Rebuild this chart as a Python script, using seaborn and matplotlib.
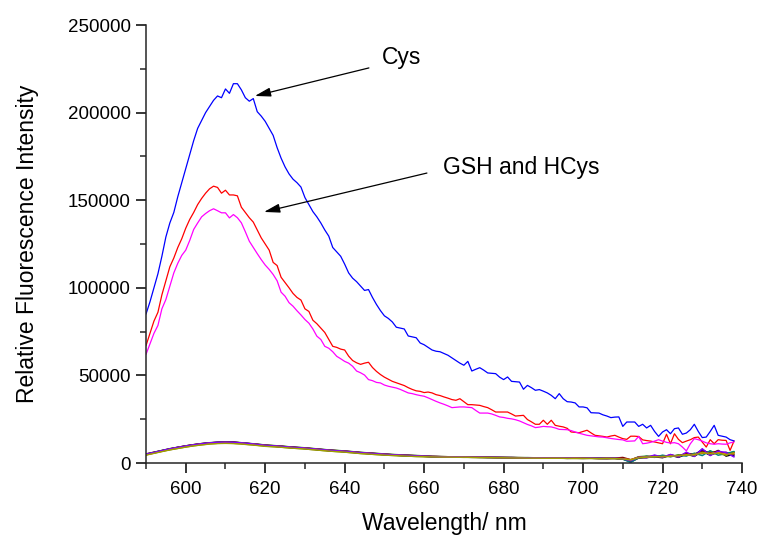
import numpy as np
import pandas as pd
import matplotlib
matplotlib.use("Agg")
import matplotlib.pyplot as plt
from matplotlib.ticker import MultipleLocator
import seaborn as sns

# ---------------------------------------------------------------- data
# emission spectra, 1 nm steps from 590 to 738 nm
wl_start, wl_stop = 590, 738

cys = [
    85000, 92000, 100000, 108000, 118000, 129000, 137000, 143000, 152000, 160000,
    168000, 176000, 184000, 191000, 195500, 200000, 203500, 207000, 209500, 208500,
    213500, 211000, 216500, 216500, 213000, 208500, 206500, 208000, 200500, 198000,
    195000, 191000, 187000, 180000, 174000, 169000, 165000, 162000, 160000, 157500,
    151500, 147500, 143500, 140500, 137000, 133000, 129500, 123000, 120500, 118000,
    113500, 108500, 105500, 103500, 101000, 98500, 99000, 94500, 90500, 87000,
    84000, 82500, 80500, 77500, 77000, 76500, 72500, 72000, 71500, 68500,
    67500, 66000, 64500, 63800, 63500, 62500, 61500, 60000, 58500, 57000,
    55800, 58000, 52500, 53500, 54400, 53000, 51400, 51200, 51000, 49000,
    47600, 49100, 46600, 46400, 46200, 42100, 44300, 43000, 41500, 41900,
    41000, 40000, 38600, 36700, 39600, 36700, 35000, 34800, 34300, 32000,
    32000, 31500, 28700, 28600, 28500, 27500, 26800, 25900, 26200, 26300,
    20900, 23400, 23400, 23400, 20900, 22100, 20000, 21500, 18000, 15200,
    17700, 19000, 16700, 19600, 20000, 16400, 17100, 19000, 22100, 18000,
    14500, 14800, 18000, 21500, 15800, 15300, 14800, 13300, 12600,
]

gsh = [
    67000, 74000, 81000, 86000, 96000, 104000, 112000, 117000, 123000, 128000,
    134000, 139000, 143000, 147500, 151000, 154000, 156500, 158000, 157300, 154000,
    155700, 153000, 153000, 152500, 146000, 143000, 140000, 137500, 133000, 128500,
    125000, 121500, 114500, 112700, 106000, 103000, 100000, 96800, 94500, 93000,
    88000, 86500, 81500, 79500, 77000, 74500, 70500, 66600, 66000, 65000,
    64500, 61000, 58500, 57200, 56300, 57000, 57500, 54500, 52300, 50500,
    49000, 47800, 46600, 45800, 45000, 44200, 43000, 42000, 41200, 40900,
    40200, 40500, 40000, 39000, 38500, 37700, 37000, 36200, 35800, 36700,
    35000, 33300, 33300, 33100, 32900, 32200, 31600, 30400, 29100, 29100,
    29100, 29100, 28000, 26800, 27000, 27200, 24800, 23500, 22100, 22100,
    24400, 22100, 24400, 21500, 21000, 20600, 19800, 17700, 17500, 17300,
    18000, 18700, 17200, 15800, 15500, 15200, 14800, 15400, 15800, 14800,
    13900, 13500, 15300, 15300, 15100, 13200, 12800, 12500, 12000, 11500,
    11000, 16400, 11000, 16700, 13500, 11600, 12500, 13300, 14500, 14800,
    12000, 9100, 13300, 11000, 13300, 13000, 12900, 7200, 12600,
]

hcys = [
    62000, 68000, 74000, 78500, 88000, 93300, 101000, 108500, 114000, 118500,
    121500, 127000, 133300, 137000, 140500, 142400, 144000, 145100, 144000, 142800,
    142800, 139900, 141800, 140000, 137100, 132000, 126600, 123000, 119500, 116100,
    113000, 110500, 107600, 104000, 97500, 95200, 91500, 89500, 86900, 84500,
    81900, 79800, 76500, 72400, 70500, 66600, 65500, 63500, 60900, 59500,
    58000, 57000, 55200, 52500, 51500, 50200, 47600, 47000, 46000, 45700,
    44500, 43800, 43300, 42800, 42000, 41000, 40000, 39600, 39000, 38500,
    38100, 37200, 36200, 35200, 34300, 33500, 32600, 31600, 31800, 32000,
    32000, 31800, 31600, 30000, 28500, 28500, 28500, 28000, 27200, 26300,
    26000, 25500, 25200, 24700, 24000, 23000, 22000, 21200, 20200, 20500,
    20900, 20700, 20600, 20000, 19200, 19100, 19000, 18500, 17700, 17000,
    16400, 15800, 15500, 15200, 14900, 14800, 14400, 14000, 13700, 13400,
    13200, 12400, 12500, 12600, 15200, 11000, 11300, 11800, 12500, 13300,
    12500, 11800, 11400, 11600, 11000, 9100, 6900, 11000, 13900, 13300,
    12500, 11500, 11000, 10700, 11000, 10800, 10700, 11500, 12000,
]

# other analytes, 2 nm steps from 590 to 738 nm, in thousands of counts
other_step = 2
other_k = {
    "s1": [4.8, 5.8, 6.8, 7.8, 8.6, 9.4, 10.1, 10.7, 11.2, 11.5,
           11.6, 11.5, 11.2, 10.8, 10.4, 9.9, 9.6, 9.3, 8.9, 8.6,
           8.3, 7.9, 7.5, 7.1, 6.8, 6.5, 6.1, 5.7, 5.4, 5.1,
           4.8, 4.5, 4.3, 4.1, 3.9, 3.8, 3.6, 3.5, 3.4, 3.4,
           3.3, 3.2, 3.2, 3.1, 3.1, 3.0, 3.0, 2.9, 2.9, 2.8,
           2.8, 2.7, 2.8, 2.6, 2.7, 2.6, 2.7, 2.5, 2.6, 2.5,
           2.2, 0.6, 2.8, 3.1, 3.5, 3.0, 4.4, 3.2, 5.0, 3.8,
           6.6, 4.4, 7.2, 3.9, 5.0],
    "s2": [5.1, 6.1, 7.2, 8.2, 9.0, 9.8, 10.5, 11.1, 11.6, 11.9,
           12.1, 12.0, 11.6, 11.2, 10.8, 10.3, 10.0, 9.7, 9.3, 9.0,
           8.7, 8.3, 7.9, 7.5, 7.2, 6.9, 6.5, 6.1, 5.8, 5.5,
           5.2, 4.9, 4.7, 4.5, 4.3, 4.1, 3.8, 3.7, 3.6, 3.6,
           3.5, 3.4, 3.4, 3.3, 3.3, 3.2, 3.2, 3.1, 3.1, 3.0,
           3.0, 2.9, 3.0, 2.9, 2.9, 2.8, 2.9, 2.8, 2.7, 2.9,
           2.6, 1.8, 3.6, 3.9, 3.4, 4.2, 3.8, 4.6, 4.2, 5.4,
           5.6, 6.0, 5.8, 5.2, 6.4],
    "s3": [5.0, 5.9, 7.0, 8.0, 8.9, 9.7, 10.4, 11.0, 11.5, 11.8,
           12.0, 11.9, 11.5, 11.1, 10.6, 10.1, 9.8, 9.5, 9.1, 8.8,
           8.5, 8.1, 7.7, 7.3, 7.0, 6.7, 6.3, 5.9, 5.6, 5.3,
           5.0, 4.7, 4.5, 4.3, 4.1, 3.9, 3.7, 3.6, 3.5, 3.5,
           3.4, 3.3, 3.3, 3.2, 3.2, 3.1, 3.1, 3.0, 3.0, 2.9,
           2.9, 2.8, 2.9, 2.8, 2.8, 2.7, 2.8, 2.7, 2.5, 2.8,
           2.3, 1.2, 3.4, 3.0, 4.2, 3.3, 4.8, 3.6, 5.8, 4.0,
           7.4, 4.6, 5.8, 6.2, 3.8],
    "s4": [4.6, 5.6, 6.6, 7.5, 8.3, 9.1, 9.8, 10.4, 10.9, 11.2,
           11.3, 11.2, 10.9, 10.5, 10.1, 9.6, 9.3, 9.0, 8.6, 8.3,
           8.0, 7.6, 7.2, 6.8, 6.5, 6.2, 5.8, 5.4, 5.1, 4.8,
           4.5, 4.3, 4.1, 3.9, 3.7, 3.6, 3.5, 3.4, 3.3, 3.3,
           3.2, 3.2, 3.1, 3.1, 3.0, 3.0, 2.9, 2.9, 2.8, 2.8,
           2.7, 2.7, 2.7, 2.7, 2.6, 2.6, 2.6, 2.6, 2.5, 2.6,
           2.3, 1.6, 2.9, 3.6, 3.8, 3.9, 3.6, 4.5, 4.4, 5.0,
           5.3, 6.8, 5.4, 4.4, 6.0],
    "s5": [4.9, 5.9, 6.9, 7.9, 8.7, 9.5, 10.2, 10.8, 11.3, 11.6,
           11.7, 11.6, 11.2, 10.8, 10.4, 9.9, 9.6, 9.3, 8.9, 8.6,
           8.3, 7.9, 7.5, 7.1, 6.8, 6.5, 6.1, 5.7, 5.4, 5.1,
           4.8, 4.5, 4.3, 4.1, 3.9, 3.8, 3.6, 3.5, 3.5, 3.4,
           3.4, 3.3, 3.2, 3.2, 3.1, 3.1, 3.0, 3.0, 2.9, 2.9,
           2.8, 2.8, 2.8, 2.7, 2.7, 2.7, 2.7, 2.6, 2.6, 2.7,
           2.4, 1.4, 3.0, 3.5, 3.2, 3.8, 4.0, 3.8, 5.2, 4.6,
           7.8, 5.0, 6.2, 5.6, 4.4],
    "s6": [5.2, 6.2, 7.1, 8.1, 9.0, 9.8, 10.5, 11.1, 11.5, 11.8,
           12.0, 11.9, 11.5, 11.1, 10.7, 10.2, 9.9, 9.6, 9.2, 8.9,
           8.6, 8.2, 7.8, 7.4, 7.1, 6.8, 6.4, 6.0, 5.7, 5.4,
           5.1, 4.8, 4.6, 4.4, 4.2, 4.0, 3.8, 3.7, 3.6, 3.5,
           3.5, 3.4, 3.4, 3.3, 3.2, 3.2, 3.1, 3.1, 3.0, 3.0,
           2.9, 2.9, 2.9, 2.8, 2.9, 2.8, 2.8, 2.7, 2.7, 2.8,
           3.2, 1.9, 3.3, 3.7, 3.9, 3.4, 4.4, 3.9, 5.5, 5.1,
           6.4, 5.8, 6.9, 5.0, 5.8],
    "s7": [5.0, 6.0, 7.0, 7.9, 8.8, 9.6, 10.3, 10.9, 11.4, 11.7,
           11.8, 11.7, 11.4, 11.0, 10.5, 10.0, 9.7, 9.4, 9.0, 8.7,
           8.4, 8.0, 7.6, 7.2, 6.9, 6.6, 6.2, 5.8, 5.5, 5.2,
           4.9, 4.6, 4.4, 4.2, 4.0, 3.9, 3.7, 3.6, 3.5, 3.5,
           3.4, 3.3, 3.3, 3.2, 3.2, 3.1, 3.1, 3.0, 3.0, 2.9,
           2.9, 2.8, 2.9, 2.8, 2.8, 2.7, 2.8, 2.7, 2.7, 2.7,
           2.2, 0.3, 3.1, 3.8, 3.3, 4.5, 3.6, 4.3, 4.0, 5.6,
           4.2, 7.0, 4.4, 5.4, 6.6],
    "s8": [4.7, 5.7, 6.8, 7.8, 8.7, 9.5, 10.2, 10.8, 11.3, 11.6,
           11.7, 11.6, 11.3, 10.9, 10.5, 10.0, 9.6, 9.4, 9.0, 8.6,
           8.4, 8.0, 7.6, 7.2, 6.8, 6.6, 6.2, 5.8, 5.5, 5.2,
           4.9, 4.6, 4.4, 4.2, 4.0, 3.8, 3.7, 3.6, 3.5, 3.5,
           3.4, 3.3, 3.3, 3.2, 3.2, 3.1, 3.1, 3.0, 3.0, 2.9,
           2.9, 2.8, 2.8, 2.8, 2.8, 2.7, 2.7, 2.6, 2.7, 2.6,
           2.5, 1.9, 3.3, 3.4, 3.6, 3.7, 4.1, 4.2, 4.6, 4.9,
           5.8, 5.5, 6.0, 5.1, 5.2],
    "s9": [5.1, 6.0, 7.1, 8.1, 8.9, 9.7, 10.4, 11.0, 11.5, 11.8,
           11.9, 11.8, 11.5, 11.1, 10.6, 10.1, 9.8, 9.5, 9.1, 8.8,
           8.5, 8.1, 7.7, 7.3, 7.0, 6.7, 6.3, 5.9, 5.6, 5.3,
           5.0, 4.7, 4.5, 4.3, 4.1, 3.9, 3.7, 3.6, 3.5, 3.5,
           3.4, 3.3, 3.3, 3.2, 3.2, 3.1, 3.1, 3.0, 3.0, 2.9,
           2.9, 2.8, 2.8, 2.8, 2.7, 2.7, 2.8, 2.7, 2.6, 2.8,
           2.4, 1.3, 3.2, 3.1, 4.6, 3.2, 4.9, 3.4, 6.2, 3.7,
           8.2, 4.2, 6.8, 5.9, 3.4],
    "s10": [4.5, 5.5, 6.5, 7.5, 8.3, 9.1, 9.8, 10.3, 10.8, 11.1,
            11.2, 11.1, 10.8, 10.4, 10.0, 9.5, 9.3, 9.0, 8.6, 8.3,
            8.0, 7.6, 7.2, 6.8, 6.5, 6.2, 5.8, 5.4, 5.1, 4.8,
            4.5, 4.3, 4.1, 3.9, 3.7, 3.6, 3.5, 3.4, 3.4, 3.3,
            3.3, 3.2, 3.1, 3.1, 3.0, 3.0, 2.9, 2.9, 2.8, 2.8,
            2.7, 2.7, 2.7, 2.6, 2.6, 2.6, 2.6, 2.5, 2.5, 2.6,
            2.3, 1.7, 3.0, 3.3, 3.7, 3.5, 3.9, 4.1, 4.8, 4.5,
            6.1, 5.2, 5.6, 4.7, 5.9],
}
other_colors = ["#000000", "#008000", "#800080", "#808000", "#000080",
                "#800000", "#008080", "#FF8000", "#8000FF", "#A0A000"]

x_ticks = [600, 620, 640, 660, 680, 700, 720, 740]
y_ticks = [0, 50000, 100000, 150000, 200000, 250000]

# ---------------------------------------------------------------- frames
wl_main = np.arange(wl_start, wl_stop + 1)
main = pd.DataFrame({"wavelength": wl_main, "Cys": cys, "GSH": gsh, "HCys": hcys})

wl_other = np.arange(wl_start, wl_stop + 1, other_step)
other = pd.DataFrame({"wavelength": wl_other})
for name, vals in other_k.items():
    other[name] = np.asarray(vals) * 1000.0
other_long = other.melt(id_vars="wavelength", var_name="sample", value_name="intensity")

# ---------------------------------------------------------------- style
sns.set_theme(style="ticks")
plt.rcParams["font.family"] = ["Liberation Sans", "DejaVu Sans"]
plt.rcParams["axes.linewidth"] = 1.1

fig = plt.figure(figsize=(7.6, 5.36), dpi=100)
ax = fig.add_axes([146 / 760, 1 - 463 / 536, (742 - 146) / 760, (463 - 25) / 536])

sns.lineplot(data=other_long, x="wavelength", y="intensity", hue="sample",
             palette=other_colors, lw=1.0, legend=False, estimator=None, ax=ax)
sns.lineplot(data=main, x="wavelength", y="GSH", color="#FF0000", lw=0.9, ax=ax)
sns.lineplot(data=main, x="wavelength", y="HCys", color="#FF00FF", lw=0.9, ax=ax)
sns.lineplot(data=main, x="wavelength", y="Cys", color="#0000FF", lw=0.9, ax=ax)

ax.set_xlim(590, 740)
ax.set_ylim(0, 250000)
ax.set_xticks(x_ticks)
ax.set_yticks(y_ticks)
ax.xaxis.set_minor_locator(MultipleLocator(10))
ax.yaxis.set_minor_locator(MultipleLocator(25000))
ax.set_xticklabels([str(t) for t in x_ticks])
ax.set_yticklabels([str(t) for t in y_ticks])
ax.tick_params(axis="both", which="major", direction="out", length=7, width=1.1,
               labelsize=13.5, colors="black")
ax.tick_params(axis="both", which="minor", direction="out", length=4, width=1.1)
ax.tick_params(axis="x", which="major", pad=6)
ax.tick_params(axis="y", which="major", pad=4)
sns.despine(ax=ax)

ax.set_xlabel("Wavelength/ nm", fontsize=16.5, labelpad=10, color="black")
ax.set_ylabel("Relative Fluorescence Intensity", fontsize=16.5, labelpad=21, color="black")

arrow = dict(arrowstyle="-|>,head_length=0.6,head_width=0.17", color="black",
             lw=0.9, mutation_scale=16, shrinkA=0, shrinkB=0)
ax.annotate("", xy=(617.4, 209500), xytext=(646.1, 225500), arrowprops=arrow)
ax.annotate("", xy=(619.7, 143300), xytext=(660.7, 165500), arrowprops=arrow)
ax.text(654.4, 231200, "Cys", fontsize=16.5, ha="center", va="center", color="black")
ax.text(684.4, 168700, "GSH and HCys", fontsize=16.5, ha="center", va="center",
        color="black")

fig.savefig("out.png", dpi=100)
